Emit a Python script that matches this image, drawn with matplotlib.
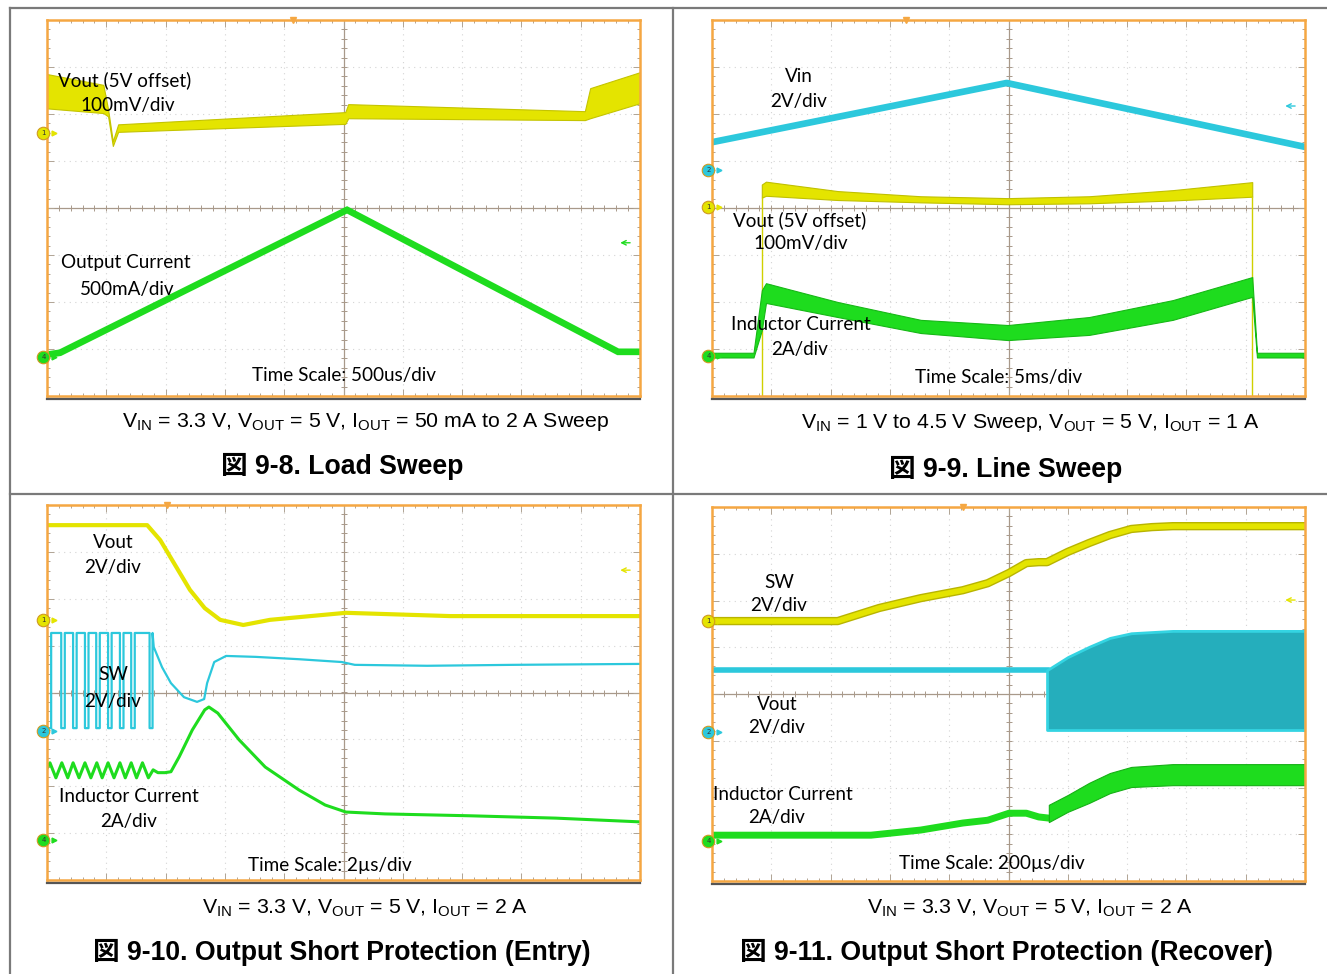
import numpy as np
import matplotlib.pyplot as plt
from matplotlib.lines import Line2D

W, H = 1327, 974
fig = plt.figure(figsize=(W / 100, H / 100), dpi=100)

YEL = '#E4E400'
CYA = '#2CC8DC'
GRN = '#1EDC1E'
ORG = '#F5A742'
LABEL_FONT = ['Lato', 'DejaVu Sans']
CAP_FONT = ['Liberation Sans', 'Noto Sans CJK JP']

# ---- data, in scope divisions (x: 0..10 div, y: -4..4 div) ----
# Fig 9-8 load sweep
p1_vout_t = [0.0, 0.95, 1.03, 1.11, 1.20, 5.03, 5.08, 9.07, 9.16, 10.0]
p1_vout_hi = [2.85, 2.62, 2.10, 1.42, 1.78, 2.04, 2.21, 2.06, 2.55, 2.89]
p1_vout_lo = [2.12, 2.02, 1.95, 1.32, 1.62, 1.79, 1.91, 1.87, 1.91, 2.23]
p1_iout_t = [0.0, 0.22, 5.06, 9.63, 10.0]
p1_iout_v = [-3.12, -3.08, -0.04, -3.06, -3.06]

# Fig 9-9 line sweep
p2_vin_t = [0.0, 4.97, 10.0]
p2_vin_v = [1.40, 2.66, 1.30]
p2_vout_t = [0.84, 0.91, 2.12, 3.52, 4.99, 6.36, 7.77, 9.11]
p2_vout_hi = [0.50, 0.56, 0.36, 0.25, 0.21, 0.25, 0.38, 0.55]
p2_vout_lo = [0.22, 0.26, 0.17, 0.12, 0.08, 0.10, 0.16, 0.24]
p2_il_t = [0.0, 0.70, 0.84, 0.91, 2.12, 3.52, 4.99, 6.36, 7.77, 9.11, 9.19, 10.0]
p2_il_hi = [-3.08, -3.08, -1.75, -1.60, -2.00, -2.38, -2.49, -2.32, -1.96, -1.47, -3.08, -3.08]
p2_il_lo = [-3.18, -3.18, -2.60, -2.02, -2.32, -2.66, -2.81, -2.70, -2.38, -1.89, -3.18, -3.18]

# Fig 9-10 short entry
p3_vout_t = [0.0, 1.69, 1.91, 2.16, 2.41, 2.66, 2.92, 3.31, 3.76, 4.27, 5.04, 6.80, 10.0]
p3_vout_v = [3.57, 3.57, 3.25, 2.72, 2.19, 1.80, 1.55, 1.44, 1.55, 1.61, 1.70, 1.63, 1.63]
p3_sw_high, p3_sw_low = 1.27, -0.76
p3_sw_lows = [(0.0, 0.07), (0.24, 0.30), (0.44, 0.50), (0.64, 0.70), (0.83, 0.89),
              (1.03, 1.09), (1.23, 1.29), (1.42, 1.48), (1.73, 1.78)]
p3_sw_tail_t = [1.80, 1.94, 2.09, 2.31, 2.53, 2.65, 2.70, 2.82, 3.02, 3.52, 4.25, 4.97, 5.19, 6.41, 7.86, 10.0]
p3_sw_tail_v = [0.97, 0.54, 0.20, -0.10, -0.20, -0.14, 0.20, 0.65, 0.78, 0.76, 0.71, 0.65, 0.59, 0.57, 0.59, 0.61]
p3_il_t = [0.0, 0.05, 0.15, 0.25, 0.35, 0.44, 0.54, 0.64, 0.74, 0.84, 0.93, 1.03, 1.13, 1.23, 1.32,
           1.42, 1.51, 1.61, 1.71, 1.79, 1.87, 1.99, 2.09, 2.23, 2.45, 2.66, 2.73, 2.88, 3.24, 3.68,
           4.25, 4.69, 5.04, 5.70, 7.13, 8.58, 10.0]
p3_il_v = [-1.62, -1.50, -1.82, -1.50, -1.82, -1.50, -1.82, -1.50, -1.82, -1.50, -1.82, -1.50, -1.82,
           -1.50, -1.82, -1.50, -1.82, -1.50, -1.82, -1.65, -1.71, -1.71, -1.69, -1.37, -0.80, -0.37,
           -0.31, -0.44, -1.01, -1.59, -2.08, -2.40, -2.55, -2.59, -2.63, -2.68, -2.76]

# Fig 9-11 short recover
p4_sw_t = [0.0, 2.12, 2.82, 3.52, 4.23, 4.65, 5.01, 5.30, 5.51, 5.65, 6.00, 6.36, 6.71, 7.07, 7.42, 7.77, 10.0]
p4_sw_v = [1.56, 1.56, 1.84, 2.05, 2.22, 2.37, 2.59, 2.80, 2.82, 2.82, 3.04, 3.23, 3.40, 3.53, 3.57, 3.59, 3.59]
p4_vout_flat_t = [0.0, 5.65]
p4_vout_flat_v = [0.51, 0.51]
p4_vout_t = [5.65, 6.00, 6.36, 6.71, 7.07, 7.77, 10.0]
p4_vout_hi = [0.51, 0.79, 1.01, 1.20, 1.30, 1.35, 1.35]
p4_vout_lo = [-0.77, -0.77, -0.77, -0.77, -0.77, -0.77, -0.77]
p4_il_pre_t = [0.0, 2.68, 3.52, 4.23, 4.65, 5.01, 5.30, 5.51, 5.65]
p4_il_pre_v = [-3.02, -3.02, -2.91, -2.76, -2.70, -2.55, -2.55, -2.63, -2.65]
p4_il_t = [5.68, 6.00, 6.36, 6.71, 7.07, 7.77, 10.0]
p4_il_hi = [-2.37, -2.16, -1.90, -1.69, -1.56, -1.50, -1.50]
p4_il_lo = [-2.74, -2.52, -2.33, -2.12, -1.99, -1.95, -1.95]


def fx(x):
    return x / W


def fy(y):
    return 1 - y / H


def scope(box, trig):
    x0, y0, x1, y1 = box
    ax = fig.add_axes([x0 / W, 1 - y1 / H, (x1 - x0) / W, (y1 - y0) / H])
    ax.set_xlim(0, 10)
    ax.set_ylim(-4, 4)
    ax.set_xticks(range(1, 10))
    ax.set_yticks(range(-3, 4))
    ax.set_xticks(np.arange(0.2, 10, 0.2), minor=True)
    ax.set_yticks(np.arange(-3.8, 4, 0.2), minor=True)
    ax.tick_params(which='both', direction='in', top=True, right=True,
                   labelbottom=False, labelleft=False, color='#b0a494', width=0.7)
    ax.tick_params(which='major', length=5)
    ax.tick_params(which='minor', length=2.5)
    for s in ax.spines.values():
        s.set_color(ORG)
        s.set_linewidth(1.8)
    for v in range(1, 10):
        if v != 5:
            ax.axvline(v, color='#d4d4d4', lw=0.8, ls=(0, (1, 4)), zorder=0)
    for v in range(-3, 4):
        if v != 0:
            ax.axhline(v, color='#d4d4d4', lw=0.8, ls=(0, (1, 4)), zorder=0)
    ax.axvline(5, color='#a8998a', lw=0.9, zorder=0.5)
    ax.axhline(0, color='#a8998a', lw=0.9, zorder=0.5)
    mx = np.arange(0.2, 10, 0.2)
    my = np.arange(-3.8, 4, 0.2)
    ax.plot(mx, np.zeros_like(mx), ls='none', marker='|', ms=4, mew=0.7, color='#a8998a', zorder=0.5)
    ax.plot(np.full_like(my, 5), my, ls='none', marker='_', ms=4, mew=0.7, color='#a8998a', zorder=0.5)
    ax.plot(trig, 4, marker='v', ms=5, color=ORG, clip_on=False, zorder=5)
    fig.add_artist(Line2D([fx(x0), fx(x1)], [fy(y1 + 3)] * 2, color='#555555', lw=1.6))
    return ax


def chan(ax, y, num, color):
    ax.plot(-0.06, y, marker='o', ms=9, mfc=color, mec='#d09a20', mew=0.8, clip_on=False, zorder=6)
    ax.text(-0.06, y, num, fontsize=5, ha='center', va='center', color='#333333', zorder=7, clip_on=False)
    ax.plot(0.12, y, marker='>', ms=3.5, color=color, clip_on=False, zorder=6)


def right_arrow(ax, y, color):
    ax.annotate('', xy=(9.62, y), xytext=(9.88, y),
                arrowprops=dict(arrowstyle='->', color=color, lw=1.0, mutation_scale=8))


def label(text, x, y, ha='left'):
    fig.text(fx(x), fy(y), text, ha=ha, va='center', fontsize=13.6, family=LABEL_FONT, color='black')


def caption(cond, title, xc_cond, y_cond, xc_title, y_title):
    fig.text(fx(xc_cond), fy(y_cond), cond, ha='center', va='center', fontsize=15.3, family=CAP_FONT)
    fig.text(fx(xc_title), fy(y_title), title, ha='center', va='center', fontsize=19.2,
             weight='bold', family=CAP_FONT)


# outer frame lines
for xs, ys in [([10, W], [8, 8]), ([10, 10], [8, H]), ([673, 673], [8, H]), ([10, W], [494, 494])]:
    fig.add_artist(Line2D([fx(v) for v in xs], [fy(v) for v in ys], color='#7a7a7a', lw=1.6))

# ---- panel 1 ----
ax1 = scope((47, 20, 640, 396), 4.15)
ax1.fill_between(p1_vout_t, p1_vout_lo, p1_vout_hi, color=YEL, lw=0.8, ec='#c4c400', zorder=2)
ax1.plot(p1_iout_t, p1_iout_v, color=GRN, lw=4.8, solid_joinstyle='miter', zorder=2)
chan(ax1, 1.60, '1', YEL)
chan(ax1, -3.17, '4', GRN)
right_arrow(ax1, -0.74, GRN)
label('Vout (5V offset)', 58, 80)
label('100mV/div', 80, 106)
label('Output Current', 61, 263)
label('500mA/div', 80, 289)
label('Time Scale: 500us/div', 252, 376)
caption(r'V$_\mathregular{IN}$ = 3.3 V, V$_\mathregular{OUT}$ = 5 V, I$_\mathregular{OUT}$ = 50 mA to 2 A Sweep',
        '図 9-8. Load Sweep', 365, 422, 342, 466)

# ---- panel 2 ----
ax2 = scope((712, 20, 1305, 396), 3.27)
ax2.plot(p2_vin_t, p2_vin_v, color=CYA, lw=4.8, zorder=2)
ax2.fill_between(p2_vout_t, p2_vout_lo, p2_vout_hi, color=YEL, lw=0.8, ec='#c0c000', zorder=2)
ax2.plot([p2_vout_t[0], p2_vout_t[0]], [-4, p2_vout_lo[0]], color='#d0d000', lw=1.0, zorder=2)
ax2.plot([p2_vout_t[-1], p2_vout_t[-1]], [-4, p2_vout_lo[-1]], color='#d0d000', lw=1.0, zorder=2)
ax2.fill_between(p2_il_t, p2_il_lo, p2_il_hi, color=GRN, lw=0.8, ec='#16b816', zorder=2)
chan(ax2, 0.81, '2', CYA)
chan(ax2, 0.02, '1', YEL)
chan(ax2, -3.15, '4', GRN)
right_arrow(ax2, 2.17, CYA)
label('Vin', 799, 77, 'center')
label('2V/div', 799, 102, 'center')
label('Vout (5V offset)', 733, 220)
label('100mV/div', 753, 244)
label('Inductor Current', 731, 325)
label('2A/div', 800, 349, 'center')
label('Time Scale: 5ms/div', 915, 378)
caption(r'V$_\mathregular{IN}$ = 1 V to 4.5 V Sweep, V$_\mathregular{OUT}$ = 5 V, I$_\mathregular{OUT}$ = 1 A',
        '図 9-9. Line Sweep', 1030, 423, 1006, 469)

# ---- panel 3 ----
ax3 = scope((47, 505, 640, 880), 2.02)
ax3.plot(p3_vout_t, p3_vout_v, color=YEL, lw=3.0, zorder=2)
sw_t, sw_v = [], []
for a, b in p3_sw_lows:
    sw_t += [a, a, b, b]
    sw_v += [p3_sw_high, p3_sw_low, p3_sw_low, p3_sw_high]
sw_t += p3_sw_tail_t
sw_v += p3_sw_tail_v
ax3.plot(sw_t, sw_v, color=CYA, lw=1.6, zorder=2)
ax3.plot(p3_il_t, p3_il_v, color=GRN, lw=2.2, zorder=2)
chan(ax3, 1.55, '1', YEL)
chan(ax3, -0.82, '2', CYA)
chan(ax3, -3.14, '4', GRN)
right_arrow(ax3, 2.61, YEL)
label('Vout', 113, 542, 'center')
label('2V/div', 113, 567, 'center')
label('SW', 113, 675, 'center')
label('2V/div', 113, 701, 'center')
label('Inductor Current', 129, 796, 'center')
label('2A/div', 129, 822, 'center')
label('Time Scale: 2µs/div', 248, 865)
caption(r'V$_\mathregular{IN}$ = 3.3 V, V$_\mathregular{OUT}$ = 5 V, I$_\mathregular{OUT}$ = 2 A',
        '図 9-10. Output Short Protection (Entry)', 365, 908, 342, 952)

# ---- panel 4 ----
ax4 = scope((712, 507, 1305, 881), 4.23)
ax4.plot(p4_sw_t, p4_sw_v, color='#b8b400', lw=6.0, zorder=2)
ax4.plot(p4_sw_t, p4_sw_v, color=YEL, lw=4.0, zorder=2)
ax4.plot(p4_vout_flat_t, p4_vout_flat_v, color=CYA, lw=4.0, zorder=2)
ax4.fill_between(p4_vout_t, p4_vout_lo, p4_vout_hi, color='#25AEBC', lw=2.0, ec='#34D4E2', zorder=2)
ax4.plot(p4_il_pre_t, p4_il_pre_v, color=GRN, lw=5.0, zorder=2)
ax4.fill_between(p4_il_t, p4_il_lo, p4_il_hi, color=GRN, lw=0.8, ec='#16b016', zorder=2)
chan(ax4, 1.56, '1', YEL)
chan(ax4, -0.81, '2', CYA)
chan(ax4, -3.14, '4', GRN)
right_arrow(ax4, 2.01, YEL)
label('SW', 779, 582, 'center')
label('2V/div', 779, 605, 'center')
label('Vout', 777, 705, 'center')
label('2V/div', 777, 728, 'center')
label('Inductor Current', 713, 794)
label('2A/div', 777, 817, 'center')
label('Time Scale: 200µs/div', 899, 864)
caption(r'V$_\mathregular{IN}$ = 3.3 V, V$_\mathregular{OUT}$ = 5 V, I$_\mathregular{OUT}$ = 2 A',
        '図 9-11. Output Short Protection (Recover)', 1030, 908, 1006, 952)

fig.savefig('out.png', dpi=100)
